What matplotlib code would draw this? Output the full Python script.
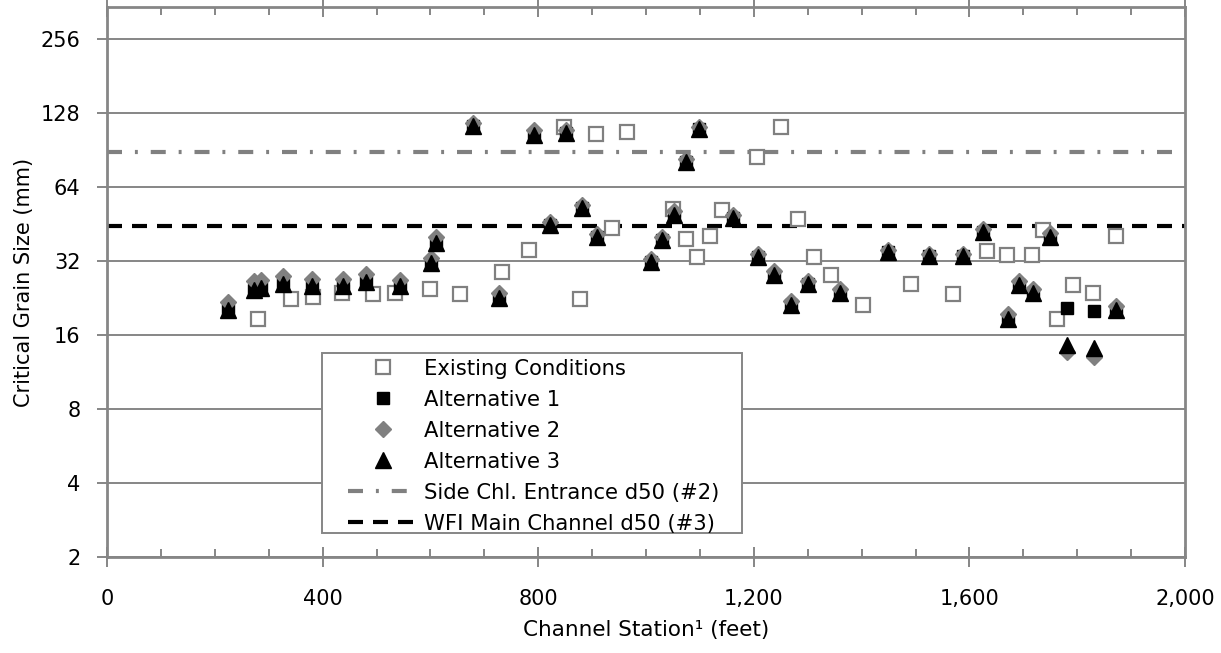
import numpy as np
import matplotlib.pyplot as plt
from matplotlib.ticker import FixedLocator, MultipleLocator
from matplotlib.lines import Line2D
from matplotlib.patches import Rectangle
from matplotlib.legend_handler import HandlerLine2D

# Existing conditions (station in feet, critical grain size in mm)
existing_station = [280, 341, 382, 436, 493, 534, 599, 655, 733, 783,
                    848, 878, 907, 937, 965, 1050, 1074, 1095, 1119, 1141,
                    1206, 1250, 1282, 1312, 1343, 1403, 1492, 1570, 1633, 1670,
                    1716, 1737, 1763, 1792, 1830, 1872]
existing_d = [18.6, 22.4, 22.8, 23.7, 23.5, 23.7, 24.6, 23.5, 28.9, 35.5,
              112, 22.4, 105, 43.6, 107, 52, 39.3, 33.2, 40.4, 51.6,
              84.8, 112, 47.5, 33.2, 28.1, 21.2, 25.8, 23.5, 35.1, 33.8,
              33.8, 42.8, 18.6, 25.6, 23.7, 40.4]

# Alternatives share the same stations
alt_station = [225, 273, 286, 326, 380, 438, 480, 544, 601, 610,
               679, 727, 792, 822, 852, 881, 909, 1009, 1030, 1052,
               1074, 1098, 1161, 1208, 1237, 1269, 1300, 1360, 1449, 1525,
               1588, 1625, 1672, 1692, 1718, 1750, 1781, 1831, 1872]
alt1_d = [20.2, 24.4, 24.8, 25.8, 25.4, 25.4, 26.2, 25.2, 31.4, 37.9,
          113, 22.6, 104, 44.8, 106, 52.6, 40, 31.7, 39, 49.3,
          81, 110, 47.9, 33.2, 28.1, 21.2, 25.8, 23.7, 34.8, 33.5,
          33.5, 42, 18.6, 25.6, 23.7, 40, 20.6, 20, 20.3]
alt2_d = [21.8, 26.4, 26.8, 27.7, 27, 27, 28.4, 26.8, 33, 40,
          116, 23.7, 109, 46, 109, 54, 41, 32.5, 40, 51,
          83, 112, 49, 34, 29, 22, 26.5, 24.5, 35.5, 34,
          34, 43, 19.5, 26.5, 24.5, 41.5, 13.6, 13, 21]
alt3_d = [20.2, 24.4, 24.8, 25.8, 25.4, 25.4, 26.2, 25.2, 31.4, 37.9,
          113, 22.6, 104, 44.8, 106, 52.6, 40, 31.7, 39, 49.3,
          81, 110, 47.9, 33.2, 28.1, 21.2, 25.8, 23.7, 34.8, 33.5,
          33.5, 42, 18.6, 25.6, 23.7, 40, 14.6, 14.1, 20.3]

# Reference d50 lines
line_station = [0, 2000]
side_chl_d50 = 89
wfi_main_d50 = 44.5

y_ticks = [2, 4, 8, 16, 32, 64, 128, 256]
x_ticks = [0, 400, 800, 1200, 1600, 2000]
x_tick_labels = ['0', '400', '800', '1,200', '1,600', '2,000']

gray = '#808080'
axis_gray = '#868686'
dashdot = (3.6, 3.1, 0.7, 3.1)
dash = (3.6, 2.4)

plt.rcParams['font.family'] = ['DejaVu Sans']

fig = plt.figure(figsize=(12.21, 6.53), dpi=100)
ax = fig.add_axes([107 / 1221, 1 - 557 / 653, 1078 / 1221, 550 / 653])

ax.set_yscale('log', base=2)
ax.set_ylim(2, 345)
ax.set_xlim(0, 2000)

for v in y_ticks:
    ax.axhline(v, color=axis_gray, lw=1.4, zorder=1)

ax.plot(line_station, [side_chl_d50] * 2, color=gray, lw=3,
        dashes=dashdot, zorder=2)
ax.plot(line_station, [wfi_main_d50] * 2, color='black', lw=3,
        dashes=dash, zorder=2)

ax.plot(existing_station, existing_d, 's', ms=9.5, mfc='white', mec=gray,
        mew=1.6, ls='none', zorder=3)
ax.plot(alt_station, alt1_d, 's', ms=8, color='black', ls='none', zorder=4)
ax.plot(alt_station, alt2_d, 'D', ms=8, color=gray, ls='none', zorder=5)
ax.plot(alt_station, alt3_d, '^', ms=11, color='black', ls='none', zorder=6)

ax.yaxis.set_major_locator(FixedLocator(y_ticks))
ax.yaxis.set_minor_locator(FixedLocator([]))
ax.set_yticklabels([str(v) for v in y_ticks])
ax.xaxis.set_major_locator(FixedLocator(x_ticks))
ax.xaxis.set_minor_locator(MultipleLocator(100))
ax.set_xticklabels(x_tick_labels)

ax.tick_params(axis='y', which='major', direction='out', length=7, width=1.4,
               color=axis_gray, labelsize=15, pad=12)
ax.tick_params(axis='x', which='major', direction='inout', length=14, width=1.4,
               color=axis_gray, labelsize=15, pad=16, top=True)
ax.tick_params(axis='x', which='minor', direction='in', length=6, width=1.4,
               color=axis_gray, top=True)

for s in ax.spines.values():
    s.set_color(axis_gray)
    s.set_linewidth(2)

ax.set_xlabel('Channel Station\u00b9 (feet)', fontsize=15.5, labelpad=8)
ax.set_ylabel('Critical Grain Size (mm)', fontsize=15, labelpad=5)

# legend frame drawn separately (wide side padding, tight top/bottom)
ax.add_patch(Rectangle((215 / 1078, 24 / 550), 420 / 1078, 180 / 550,
                       transform=ax.transAxes, facecolor='white',
                       edgecolor=axis_gray, lw=1.4, zorder=7))

handles = [
    Line2D([], [], marker='s', ms=9.5, mfc='white', mec=gray, mew=1.6, ls='none'),
    Line2D([], [], marker='s', ms=8, color='black', ls='none'),
    Line2D([], [], marker='D', ms=8, color=gray, ls='none'),
    Line2D([], [], marker='^', ms=11, color='black', ls='none'),
    Line2D([], [], color=gray, lw=3, dashes=dashdot),
    Line2D([], [], color='black', lw=3, dashes=dash),
]
labels = ['Existing Conditions', 'Alternative 1', 'Alternative 2', 'Alternative 3',
          'Side Chl. Entrance d50 (#2)', 'WFI Main Channel d50 (#3)']
leg = ax.legend(handles, labels, loc='lower left',
                bbox_to_anchor=(224 / 1078, 23.4 / 550), fontsize=15.2,
                frameon=False, labelspacing=0.52, handlelength=4.12,
                handletextpad=0.28, borderpad=0, borderaxespad=0,
                handler_map={Line2D: HandlerLine2D(xpad=0.8)})
leg.set_zorder(8)

fig.savefig('out.png', dpi=100)
